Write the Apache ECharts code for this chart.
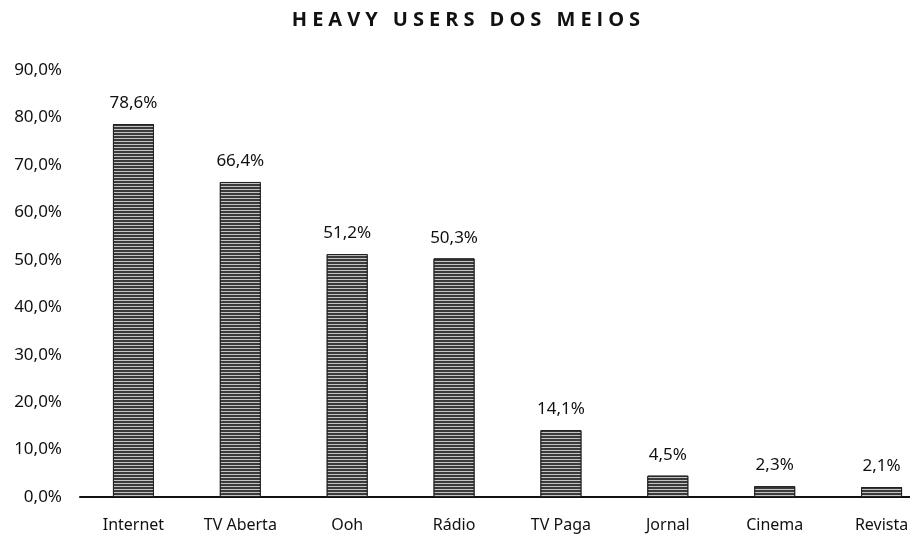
<!DOCTYPE html>
<html>
<head>
<meta charset="utf-8">
<script src="https://cdn.jsdelivr.net/npm/echarts@6/dist/echarts.min.js"></script>
<style>
html, body { margin: 0; padding: 0; background: #fff; overflow: hidden; }
#main { width: 935px; height: 543px; }
</style>
</head>
<body>
<div id="main"></div>
<script>
const categories = ["Internet", "TV Aberta", "Ooh", "Rádio", "TV Paga", "Jornal", "Cinema", "Revista"];
const values = [78.6, 66.4, 51.2, 50.3, 14.1, 4.5, 2.3, 2.1];
const titleText = "HEAVY USERS DOS MEIOS";

const fmt = (v) => v.toFixed(1).replace(".", ",") + "%";
// spread the title letters like the original
const spaced = (s) => s.split("").join("\u2005");

const chart = echarts.init(document.getElementById("main"));
chart.setOption({
    backgroundColor: "#fff",
    animation: false,
    title: {
        text: spaced(titleText),
        left: 461,
        top: 5,
        textAlign: "center",
        textStyle: {
            fontFamily: "Open Sans",
            fontWeight: "bold",
            fontSize: 20,
            color: "#111",
        },
    },
    grid: {
        left: 80,
        right: 0,
        top: 70,
        bottom: 46,
    },
    xAxis: {
        type: "category",
        data: categories,
        axisLine: { lineStyle: { color: "#111", width: 2 } },
        axisTick: { show: false },
        axisLabel: {
            margin: 20,
            fontFamily: "Noto Sans",
            fontSize: 16,
            color: "#111",
        },
    },
    yAxis: {
        type: "value",
        min: 0,
        max: 90,
        interval: 10,
        splitLine: { show: false },
        axisLine: { show: false },
        axisTick: { show: false },
        axisLabel: {
            margin: 18,
            fontFamily: "Noto Sans",
            fontSize: 17,
            color: "#111",
            formatter: (v) => fmt(v),
        },
    },
    series: [
        {
            type: "bar",
            data: values,
            barWidth: 41,
            itemStyle: {
                color: "#3a3a3a",
                borderColor: "#222",
                borderWidth: 1,
                decal: {
                    symbol: "rect",
                    symbolSize: 1,
                    dashArrayX: [[1, 0]],
                    dashArrayY: [1, 2],
                    rotation: 0,
                    color: "rgba(255,255,255,0.7)",
                },
            },
            label: {
                show: true,
                position: "top",
                distance: 12,
                fontFamily: "Noto Sans",
                fontSize: 17,
                color: "#111",
                formatter: (p) => fmt(p.value),
            },
        },
    ],
});
</script>
</body>
</html>
